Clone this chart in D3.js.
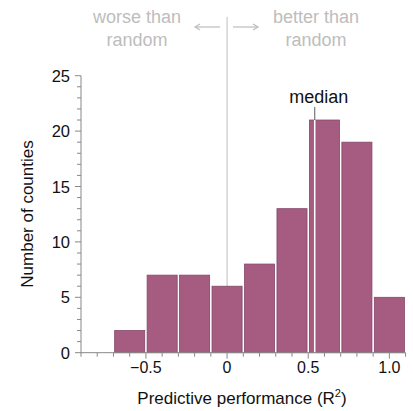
<!DOCTYPE html>
<html><head><meta charset="utf-8">
<script src="https://cdn.jsdelivr.net/npm/d3@7"></script>
<style>body{margin:0;background:#fff}svg{display:block;font-family:"Liberation Sans",Arial,Helvetica,sans-serif}</style>
</head><body><svg id="c" width="413" height="411"></svg>
<script>
const binStarts = [-0.7,-0.5,-0.3,-0.1,0.1,0.3,0.5,0.7,0.9];
const binWidth = 0.2;
const counts = [2,7,7,6,8,13,21,19,5];
const medianValue = 0.54;
const xTickLabels = [-0.5,0,0.5,1.0];
const yTickLabels = [0,5,10,15,20,25];

const svg = d3.select("#c");
const x = d3.scaleLinear().domain([-0.9,1.1]).range([81,405.6]);
const y = d3.scaleLinear().domain([0,25]).range([352.7,75.7]);

// zero line
svg.append("line").attr("x1",x(0)).attr("x2",x(0)).attr("y1",17).attr("y2",y(0))
  .attr("stroke","#c8c8c8").attr("stroke-width",1.2);

// bars
svg.selectAll("rect.bar").data(binStarts).join("rect").attr("class","bar")
  .attr("x",d=>x(d)+1.2).attr("width",d=>x(d+binWidth)-x(d)-2.4)
  .attr("y",(d,i)=>y(counts[i])).attr("height",(d,i)=>y(0)-y(counts[i]))
  .attr("fill","#a65c80").attr("stroke","#84466a").attr("stroke-width",0.8);

// median
svg.append("line").attr("x1",x(medianValue)).attr("x2",x(medianValue))
  .attr("y1",y(21)).attr("y2",y(0)).attr("stroke","#fff").attr("stroke-width",1.5);
svg.append("line").attr("x1",x(medianValue)).attr("x2",x(medianValue))
  .attr("y1",y(21)-13).attr("y2",y(21)).attr("stroke","#777").attr("stroke-width",1.2);
svg.append("text").attr("x",x(medianValue)+4).attr("y",103).attr("text-anchor","middle")
  .attr("font-size",18).attr("fill","#111").text("median");

// axes
const axisColor = "#888";
const xMinor = d3.range(-9,12).map(v=>v/10);
const xa = svg.append("g").attr("transform",`translate(0,${y(0)})`);
xa.append("line").attr("x1",x(-0.9)).attr("x2",x(1.1)).attr("stroke",axisColor);
xa.selectAll("line.t").data(xMinor).join("line").attr("class","t")
  .attr("x1",d=>x(d)).attr("x2",d=>x(d)).attr("y1",0)
  .attr("y2",d=>xTickLabels.some(v=>Math.abs(v-d)<1e-9)?6:4).attr("stroke",axisColor);
xa.selectAll("text").data(xTickLabels).join("text")
  .attr("x",d=>x(d)).attr("y",20).attr("text-anchor","middle").attr("font-size",16).attr("fill","#111")
  .text(d=>d===0?"0":(d<0?"\u2212"+Math.abs(d).toFixed(1):d.toFixed(1)));

const yMinor = d3.range(0,26);
const ya = svg.append("g").attr("transform",`translate(${x(-0.9)},0)`);
ya.append("line").attr("y1",y(0)).attr("y2",y(25)).attr("stroke",axisColor);
ya.selectAll("line.t").data(yMinor).join("line").attr("class","t")
  .attr("y1",d=>y(d)).attr("y2",d=>y(d)).attr("x1",0)
  .attr("x2",d=>d%5===0?-6:-4).attr("stroke",axisColor);
ya.selectAll("text").data(yTickLabels).join("text")
  .attr("x",-11).attr("y",d=>y(d)+6).attr("text-anchor","end").attr("font-size",16.5).attr("fill","#111")
  .text(d=>d);

// titles
const xt = svg.append("text").attr("x",242).attr("y",404).attr("text-anchor","middle")
  .attr("font-size",17).attr("fill","#111");
xt.append("tspan").text("Predictive performance (R");
xt.append("tspan").attr("dy",-7).attr("font-size",11).text("2");
xt.append("tspan").attr("dy",7).text(")");
svg.append("text").attr("transform","translate(33,214) rotate(-90)").attr("text-anchor","middle")
  .attr("font-size",17).attr("fill","#111").text("Number of counties");

// annotations
const gray="#bdbdbd";
[["worse than",137,23],["random",137,46],["better than",316,23],["random",316,46]].forEach(([t,xx,yy])=>{
  svg.append("text").attr("x",xx).attr("y",yy).attr("text-anchor","middle").attr("font-size",18)
    .attr("fill",gray).text(t);
});
function arrow(x1,x2){
  svg.append("line").attr("x1",x1).attr("x2",x2).attr("y1",27).attr("y2",27).attr("stroke",gray).attr("stroke-width",1.2);
  const dir = Math.sign(x2-x1);
  svg.append("path").attr("d",`M${x2-dir*5},24 L${x2},27 L${x2-dir*5},30`).attr("fill","none").attr("stroke",gray).attr("stroke-width",1.2);
}
arrow(220,195);
arrow(233,258);
</script></body></html>
